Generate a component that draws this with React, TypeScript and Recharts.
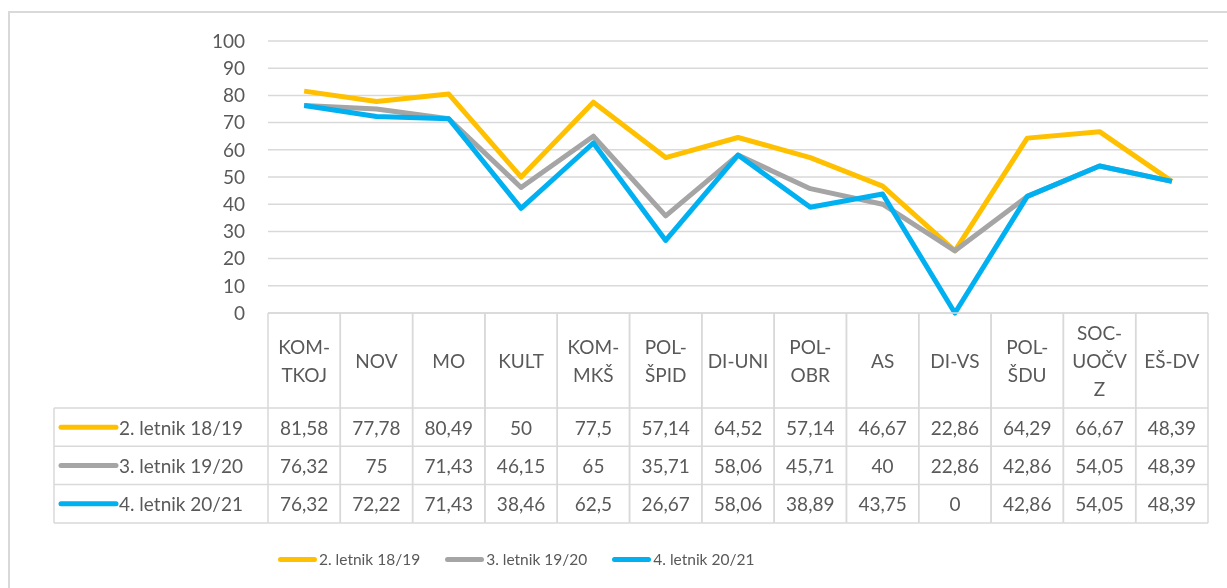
import React from 'react';
import { LineChart, Line, XAxis, YAxis, CartesianGrid, Legend } from 'recharts';

const categories = ['KOM-TKOJ', 'NOV', 'MO', 'KULT', 'KOM-MKŠ', 'POL-ŠPID', 'DI-UNI', 'POL-OBR', 'AS', 'DI-VS', 'POL-ŠDU', 'SOC-UOČVZ', 'EŠ-DV'];
const headerLabels = [
  ['KOM-', 'TKOJ'], ['NOV'], ['MO'], ['KULT'], ['KOM-', 'MKŠ'], ['POL-', 'ŠPID'], ['DI-UNI'],
  ['POL-', 'OBR'], ['AS'], ['DI-VS'], ['POL-', 'ŠDU'], ['SOC-', 'UOČV', 'Z'], ['EŠ-DV'],
];
const seriesNames = ['2. letnik 18/19', '3. letnik 19/20', '4. letnik 20/21'];
const letnik2 = [81.58, 77.78, 80.49, 50, 77.5, 57.14, 64.52, 57.14, 46.67, 22.86, 64.29, 66.67, 48.39];
const letnik3 = [76.32, 75, 71.43, 46.15, 65, 35.71, 58.06, 45.71, 40, 22.86, 42.86, 54.05, 48.39];
const letnik4 = [76.32, 72.22, 71.43, 38.46, 62.5, 26.67, 58.06, 38.89, 43.75, 0, 42.86, 54.05, 48.39];
const yTicks = [0, 10, 20, 30, 40, 50, 60, 70, 80, 90, 100];
const colors = ['#FFC000', '#A5A5A5', '#00B0F0'];
const seriesKeys = ['s1', 's2', 's3'];
const seriesValues = [letnik2, letnik3, letnik4];

const data = categories.map((c, i) => ({ name: c, s1: letnik2[i], s2: letnik3[i], s3: letnik4[i] }));

const FONT = 'Lato, "Noto Sans", sans-serif';
const TEXT = '#595959';
const BORDER = '#D9D9D9';
const HALF = 36.15;
const HEADER_H = 95;
const ROW_H = 38.3;
const ROW_HEAD_W = 214;

const fmt = (v: number) => String(v).replace('.', ',');

function TableTick(props: any) {
  const { x, y, payload } = props;
  const i = payload.index;
  const lines = headerLabels[i] || [String(payload.value)];
  const lh = 28;
  const cy = y + HEADER_H / 2;
  const startY = cy - ((lines.length - 1) * lh) / 2;
  const bottom = y + HEADER_H + 3 * ROW_H;
  const left = x - HALF - ROW_HEAD_W;
  return (
    <g>
      <line x1={x - HALF} x2={x - HALF} y1={y} y2={bottom} stroke={BORDER} strokeWidth={1.5} />
      <line x1={x + HALF} x2={x + HALF} y1={y} y2={bottom} stroke={BORDER} strokeWidth={1.5} />
      {[0, 1, 2, 3].map((r) => (
        <line key={r} x1={x - HALF} x2={x + HALF} y1={y + HEADER_H + r * ROW_H} y2={y + HEADER_H + r * ROW_H} stroke={BORDER} strokeWidth={1.5} />
      ))}
      {lines.map((t, k) => (
        <text key={k} x={x} y={startY + k * lh} textAnchor="middle" dominantBaseline="central" fill={TEXT} fontSize={19} fontFamily={FONT}>{t}</text>
      ))}
      {seriesValues.map((vals, r) => (
        <text key={'v' + r} x={x} y={y + HEADER_H + r * ROW_H + ROW_H / 2} textAnchor="middle" dominantBaseline="central" fill={TEXT} fontSize={19} fontFamily={FONT}>{fmt(vals[i])}</text>
      ))}
      {i === 0 && (
        <g>
          <line x1={left} x2={left} y1={y + HEADER_H} y2={bottom} stroke={BORDER} strokeWidth={1.5} />
          {[0, 1, 2, 3].map((r) => (
            <line key={'h' + r} x1={left} x2={x - HALF} y1={y + HEADER_H + r * ROW_H} y2={y + HEADER_H + r * ROW_H} stroke={BORDER} strokeWidth={1.5} />
          ))}
          {seriesNames.map((n, r) => {
            const ry = y + HEADER_H + r * ROW_H + ROW_H / 2;
            return (
              <g key={'n' + r}>
                <line x1={left + 7} x2={left + 62} y1={ry} y2={ry} stroke={colors[r]} strokeWidth={5} strokeLinecap="round" />
                <text x={left + 65} y={ry} textAnchor="start" dominantBaseline="central" fill={TEXT} fontSize={19} fontFamily={FONT}>{n}</text>
              </g>
            );
          })}
        </g>
      )}
    </g>
  );
}

function LegendContent() {
  return (
    <div style={{ display: 'flex', alignItems: 'center', fontFamily: FONT, fontSize: 15.5, color: TEXT, whiteSpace: 'nowrap' }}>
      {seriesNames.map((n, r) => (
        <div key={n} style={{ display: 'flex', alignItems: 'center', marginRight: 25 }}>
          <div style={{ width: 39, height: 5, borderRadius: 3, background: colors[r], marginRight: 2 }} />
          <span>{n}</span>
        </div>
      ))}
    </div>
  );
}

export default function App() {
  return (
    <div style={{ position: 'relative', width: 1211, height: 572 }}>
      <div style={{ position: 'fixed', left: 8, top: 11, width: 1400, height: 800, border: '2px solid #D9D9D9', pointerEvents: 'none' }} />
      <LineChart width={1211} height={572} data={data} margin={{ top: 33, right: 11, left: 200, bottom: 0 }}>
        <CartesianGrid vertical={false} stroke={BORDER} strokeWidth={1.5} />
        <XAxis
          dataKey="name"
          interval={0}
          height={267}
          padding={{ left: HALF, right: HALF }}
          tickLine={false}
          tickSize={0}
          tickMargin={0}
          axisLine={{ stroke: BORDER, strokeWidth: 1.5 }}
          tick={<TableTick />}
        />
        <YAxis
          width={60}
          domain={[0, 100]}
          ticks={yTicks}
          interval={0}
          axisLine={false}
          tickLine={false}
          tickSize={0}
          tickMargin={23}
          tick={{ fill: TEXT, fontSize: 19, fontFamily: FONT }}
        />
        <Legend
          verticalAlign="middle"
          layout="horizontal"
          wrapperStyle={{ position: 'absolute', top: 542, left: 270, width: 700, height: 24 }}
          content={() => <LegendContent />}
        />
        {seriesKeys.map((k, r) => (
          <Line key={k} type="linear" dataKey={k} name={seriesNames[r]} stroke={colors[r]} strokeWidth={5} strokeLinejoin="round" dot={false} activeDot={false} isAnimationActive={false} />
        ))}
      </LineChart>
    </div>
  );
}
